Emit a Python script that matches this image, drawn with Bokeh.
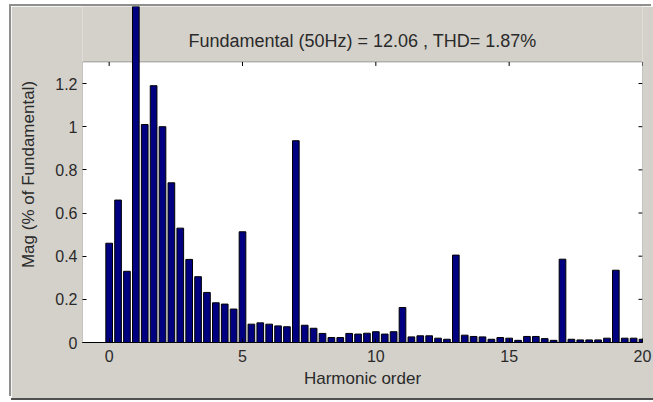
from bokeh.plotting import figure
from bokeh.models import BoxAnnotation, Label, FixedTicker, ColumnDataSource
from bokeh.embed import file_html
from bokeh.resources import INLINE

# ---- data ----
# harmonic orders on the 1/3-harmonic grid (16.67 Hz resolution) 0..20
harmonic = [k / 3 for k in range(61)]
mag = [
    0.46, 0.66, 0.33, 100.0, 1.01, 1.19, 1.00, 0.74, 0.53, 0.385,
    0.305, 0.232, 0.184, 0.178, 0.155, 0.513, 0.085, 0.091, 0.085, 0.077,
    0.073, 0.935, 0.080, 0.066, 0.042, 0.023, 0.023, 0.042, 0.039, 0.043,
    0.050, 0.039, 0.050, 0.162, 0.026, 0.031, 0.031, 0.020, 0.015, 0.405,
    0.034, 0.028, 0.026, 0.015, 0.023, 0.020, 0.010, 0.028, 0.028, 0.018,
    0.010, 0.386, 0.015, 0.012, 0.012, 0.012, 0.020, 0.335, 0.020, 0.020,
    0.015,
]
x_ticks = [0, 5, 10, 15, 20]
y_ticks = [0, 0.2, 0.4, 0.6, 0.8, 1.0, 1.2]
y_tick_labels = {0: "0", 0.2: "0.2", 0.4: "0.4", 0.6: "0.6", 0.8: "0.8", 1.0: "1", 1.2: "1.2"}
title_text = "Fundamental (50Hz) = 12.06 , THD= 1.87%"
x_label = "Harmonic order"
y_label = "Mag (% of Fundamental)"

X_MIN, X_MAX = -1, 20
Y_AXES_TOP = 1.3
Y_FRAME_TOP = 1.557

GRAY = "#d4d1cb"
FONT = "Liberation Sans"
TXT = "#2a2a2a"

p = figure(width=642, height=392, x_range=(X_MIN, X_MAX), y_range=(0, Y_FRAME_TOP),
           output_backend="svg", toolbar_location=None,
           min_border_left=71, min_border_right=11, min_border_top=0, min_border_bottom=56,
           background_fill_color=GRAY, border_fill_color=GRAY, outline_line_color=None)
p.styles = {"margin-left": "11px", "margin-top": "6px",
            "box-shadow": "-2px -2px 0 #8f8f8f, 0 2px 0 #505050"}
p.grid.visible = False

# white axes box
p.add_layout(BoxAnnotation(left=X_MIN, right=X_MAX, bottom=0, top=Y_AXES_TOP,
                           fill_color="white", fill_alpha=1.0, line_color="black",
                           line_width=1, level="underlay"))

src = ColumnDataSource(dict(x=harmonic, top=mag))
p.vbar(x="x", top="top", width=0.25, source=src, fill_color="#000080",
       line_color="black", line_width=1)

# top & right inward ticks
tick_len_y = 4 / 215.8
tick_len_x = 4 / 26.67
p.segment(x0=x_ticks, y0=[Y_AXES_TOP] * len(x_ticks), x1=x_ticks,
          y1=[Y_AXES_TOP - tick_len_y] * len(x_ticks), line_color="black", line_width=1)
p.segment(x0=[X_MAX] * len(y_ticks), y0=y_ticks, x1=[X_MAX - tick_len_x] * len(y_ticks),
          y1=y_ticks, line_color="black", line_width=1)

xa = p.xaxis[0]
xa.ticker = FixedTicker(ticks=x_ticks)
xa.minor_tick_line_color = None
xa.major_tick_in = 4
xa.major_tick_out = 0
xa.axis_line_color = "black"
xa.major_label_standoff = 7
xa.major_label_text_font = FONT
xa.major_label_text_font_size = "16px"
xa.major_label_text_color = TXT
xa.axis_label = x_label
xa.axis_label_text_font = FONT
xa.axis_label_text_font_size = "17px"
xa.axis_label_text_font_style = "normal"
xa.axis_label_text_color = TXT
xa.axis_label_standoff = 4

ya = p.yaxis[0]
ya.ticker = FixedTicker(ticks=y_ticks)
ya.major_label_overrides = y_tick_labels
ya.minor_tick_line_color = None
ya.major_tick_in = 4
ya.major_tick_out = 0
ya.axis_line_color = None
ya.major_label_standoff = 5
ya.major_label_text_font = FONT
ya.major_label_text_font_size = "16px"
ya.major_label_text_color = TXT
ya.axis_label = y_label
ya.axis_label_text_font = FONT
ya.axis_label_text_font_size = "17px"
ya.axis_label_text_font_style = "normal"
ya.axis_label_text_color = TXT
ya.axis_label_standoff = 14

p.add_layout(Label(x=(X_MIN + X_MAX) / 2, y=1.395, text=title_text, text_align="center",
                   text_baseline="middle", text_font=FONT, text_font_size="18px",
                   text_color=TXT))

open("out.html", "w").write(file_html(p, INLINE))
